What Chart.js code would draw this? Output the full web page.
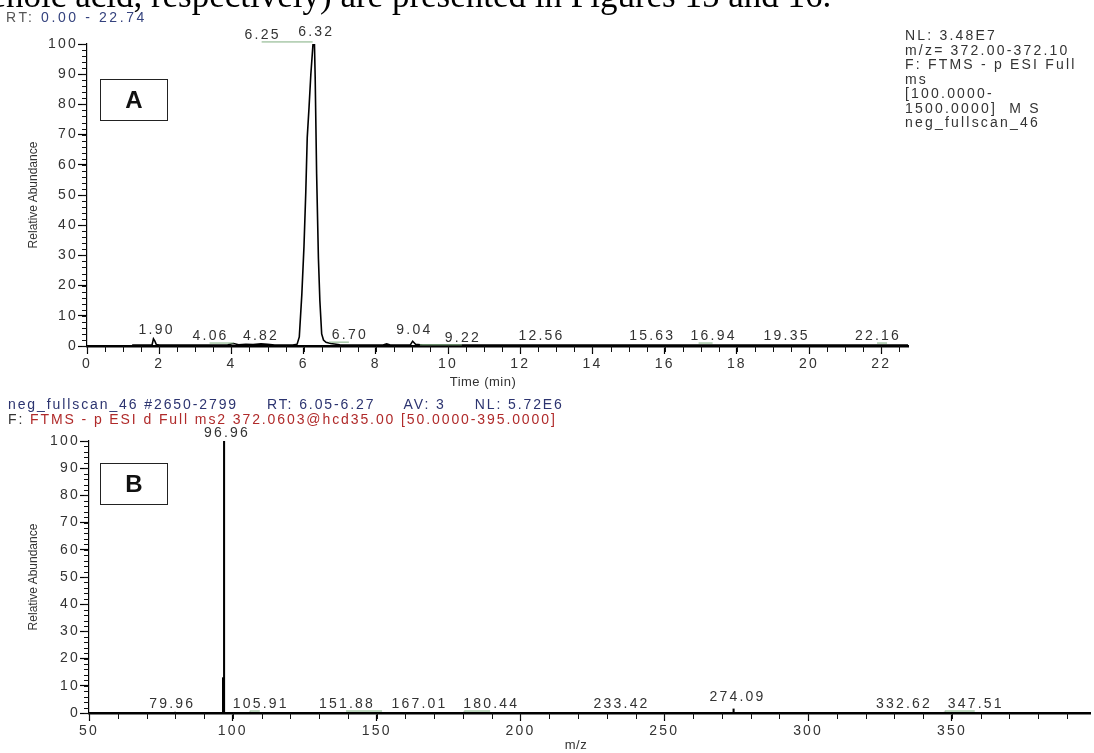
<!DOCTYPE html>
<html>
<head>
<meta charset="utf-8">
<script src="https://cdn.jsdelivr.net/npm/chart.js@4.4.0/dist/chart.umd.min.js"></script>
<style>
body{margin:0;background:#fff;}
#page{position:relative;width:1094px;height:753px;overflow:hidden;font-family:"Liberation Sans",Arial,sans-serif;color:#333;}
.abs{position:absolute;white-space:pre;z-index:2;}
.xc{font-size:14px;letter-spacing:2.2px;}
canvas{position:absolute;left:0;z-index:1;}
.box{position:absolute;z-index:2;border:1.3px solid #222;box-sizing:border-box;width:68px;height:42px;left:100px;font:bold 24px "Liberation Sans",Arial,sans-serif;color:#111;text-align:center;line-height:40px;}
.ytitle{position:absolute;z-index:2;white-space:nowrap;font-size:12px;color:#333;transform:translate(-50%,-50%) rotate(-90deg);}
.xtitle{position:absolute;z-index:2;white-space:nowrap;font-size:13px;letter-spacing:0.5px;color:#333;transform:translate(-50%,-50%);}
</style>
</head>
<body>
<div id="page">
  <div class="abs" style="left:0;top:0;width:1094px;height:18px;overflow:hidden;">
    <div id="sent" class="abs" style="top:-22px;left:0;font:35px/36px 'Liberation Serif','Times New Roman',serif;color:#000;"><span id="pre">decenoic </span>acid, respectively) are presented in Figures 15 and 16.</div>
  </div>
  <div class="abs xc" style="left:6px;top:9px;letter-spacing:2.6px;color:#555;">RT: <span style="color:#34427e">0.00 - 22.74</span></div>
  <div class="abs xc" style="left:905px;top:28px;line-height:14.5px;color:#333;">NL: 3.48E7
m/z= 372.00-372.10
F: FTMS - p ESI Full
ms
[100.0000-
1500.0000]  M S
neg_fullscan_46</div>
  <div class="abs xc" style="left:8px;top:396px;letter-spacing:1.9px;color:#2c3470;">neg_fullscan_46 #2650-2799     RT: 6.05-6.27     AV: 3     NL: 5.72E6</div>
  <div class="abs xc" style="left:8px;top:411px;letter-spacing:1.9px;color:#333;">F: <span style="color:#b02a2a">FTMS - p ESI d Full ms2 372.0603@hcd35.00 [50.0000-395.0000]</span></div>
  <div class="box" style="top:79px;">A</div>
  <div class="box" style="top:463px;">B</div>
  <div class="ytitle" style="left:33px;top:195px;">Relative Abundance</div>
  <div class="ytitle" style="left:33px;top:577px;">Relative Abundance</div>
  <div class="xtitle" style="left:483px;top:381px;">Time (min)</div>
  <div class="xtitle" style="left:576px;top:744px;">m/z</div>
  <canvas id="chartA" width="1094" height="400" style="top:0;"></canvas>
  <canvas id="chartB" width="1094" height="358" style="top:395px;"></canvas>
</div>
<script>
// panel A: chromatogram (time in min, relative abundance)
var timeA = [1.25, 1.80, 1.84, 1.88, 1.92, 2.00, 3.00, 3.90, 4.06, 4.20, 4.40, 4.60, 4.82, 5.00, 5.20, 5.70,
             5.82, 5.88, 5.95, 6.01, 6.06, 6.10, 6.15, 6.20, 6.26, 6.30, 6.32, 6.36, 6.41, 6.45, 6.50, 6.55,
             6.62, 6.75, 7.00, 8.20, 8.30, 8.40, 8.95, 9.02, 9.10, 9.30, 22.74];
var abundA = [0.3, 0.3, 2.4, 1.6, 0.5, 0.3, 0.3, 0.4, 0.8, 0.4, 0.6, 0.5, 0.7, 0.6, 0.3, 0.3,
              0.6, 3, 17, 33, 51, 69, 79, 90, 100, 100, 89, 57, 29, 15, 4, 2,
              1.2, 0.8, 0.4, 0.3, 0.7, 0.3, 0.3, 1.6, 0.6, 0.3, 0.3];
var peakTimesA = [1.90, 4.06, 4.82, 6.25, 6.32, 6.70, 9.04, 9.22, 12.56, 15.63, 16.94, 19.35, 22.16];
var peakLabelHeightA = [5.3, 3.3, 3.3, 103, 104, 3.6, 5.3, 2.7, 3.3, 3.3, 3.3, 3.3, 3.3];
var peakShiftA = [0, -24, -1, -51, 0, 20, 0, 42, 0, 0, 14, 0, -10];

// panel B: MS2 spectrum (m/z, relative abundance)
var mzB = [79.96, 96.6, 96.96, 105.91, 151.88, 167.01, 180.44, 233.42, 274.09, 332.62, 347.51];
var intB = [0.3, 13, 100, 0.3, 0.2, 0.2, 0.3, 0.2, 1.5, 0.2, 0.3];
var peakMzB = [79.96, 96.96, 105.91, 151.88, 167.01, 180.44, 233.42, 274.09, 332.62, 347.51];
var peakLabelHeightB = [3.3, 103, 3.3, 3.3, 3.3, 3.3, 3.3, 5.9, 3.3, 3.3];
var peakShiftB = [-4, 2, 10, -36, -7, 26, 4, 3, 1, 30];
var mzTicksB = [50, 100, 150, 200, 250, 300, 350];

// put the clipped sentence so that "acid," starts where it does in the page
var pre = document.getElementById('pre');
document.getElementById('sent').style.left = (75 - pre.offsetWidth) + 'px';

var tickFont = {family: '"Liberation Sans", Arial, sans-serif', size: 14};

// instrument-style wide text on the canvas
var spacing = {
  id: 'spacing',
  beforeDraw: function(chart) { chart.ctx.letterSpacing = '2.2px'; }
};

var peakLabels = {
  id: 'peakLabels',
  afterDatasetsDraw: function(chart, args, opts) {
    var ctx = chart.ctx, xs = chart.scales.x, ys = chart.scales.y;
    ctx.save();
    ctx.font = '14px "Liberation Sans", Arial, sans-serif';
    ctx.letterSpacing = '2.2px';
    ctx.fillStyle = '#333';
    ctx.textAlign = 'center';
    ctx.textBaseline = 'middle';
    for (var i = 0; i < opts.values.length; i++) {
      var px = xs.getPixelForValue(opts.values[i]);
      var tx = px + opts.shift[i];
      var ty = ys.getPixelForValue(opts.heights[i]);
      ctx.fillText(opts.values[i].toFixed(2), tx + 1, ty);
      if (Math.abs(opts.shift[i]) > 8) {
        ctx.beginPath();
        ctx.strokeStyle = '#7fae7f';
        ctx.lineWidth = 1;
        ctx.moveTo(Math.min(px, tx), ty + 7);
        ctx.lineTo(Math.max(px, tx), ty + 7);
        ctx.stroke();
      }
    }
    ctx.restore();
  }
};

var minorTicks = {
  id: 'minorTicks',
  afterDraw: function(chart, args, opts) {
    var ctx = chart.ctx, xs = chart.scales.x, ys = chart.scales.y;
    ctx.save();
    ctx.beginPath();
    ctx.strokeStyle = '#111';
    ctx.lineWidth = 1;
    var v, p;
    for (v = xs.min; v <= xs.max + 1e-9; v += opts.xStep) {
      p = Math.round(xs.getPixelForValue(v)) + 0.5;
      ctx.moveTo(p, xs.top);
      ctx.lineTo(p, xs.top + 6);
    }
    for (v = ys.min; v <= ys.max + 1e-9; v += opts.yStep) {
      p = Math.round(ys.getPixelForValue(v)) + 0.5;
      ctx.moveTo(ys.right, p);
      ctx.lineTo(ys.right - 5, p);
    }
    ctx.stroke();
    ctx.restore();
  }
};

function axes(xmin, xmax, xstep, yWidth, xHeight, xTickValues) {
  var x = {
    type: 'linear', min: xmin, max: xmax, offset: false,
    afterFit: function(s) { s.height = xHeight; },
    border: {color: '#000', width: 2.5},
    grid: {drawOnChartArea: false, drawTicks: true, tickLength: 8, color: '#000', tickWidth: 1.2, offset: false},
    ticks: {stepSize: xstep, includeBounds: false, color: '#333', font: tickFont, padding: 2, maxRotation: 0, autoSkip: false},
    title: {display: false}
  };
  if (xTickValues) {
    x.afterBuildTicks = function(s) { s.ticks = xTickValues.map(function(v) { return {value: v}; }); };
  }
  return {
    x: x,
    y: {
      min: 0, max: 100,
      afterFit: function(s) { s.width = yWidth; },
      border: {color: '#000', width: 1.2},
      grid: {drawOnChartArea: false, drawTicks: true, tickLength: 9, color: '#000', tickWidth: 1.2},
      ticks: {stepSize: 10, color: '#333', font: tickFont, padding: 0, autoSkip: false},
      title: {display: false}
    }
  };
}

var chartA = new Chart(document.getElementById('chartA').getContext('2d'), {
  type: 'line',
  data: {
    datasets: [{
      data: timeA.map(function(t, i) { return {x: t, y: abundA[i]}; }),
      borderColor: '#000',
      borderWidth: 1.6,
      pointRadius: 0,
      tension: 0,
      fill: false
    }]
  },
  options: {
    responsive: false,
    animation: false,
    devicePixelRatio: 1,
    layout: {padding: {left: 0, right: 186, top: 44, bottom: 0}},
    plugins: {
      legend: {display: false},
      tooltip: {enabled: false},
      peakLabels: {values: peakTimesA, heights: peakLabelHeightA, shift: peakShiftA},
      minorTicks: {xStep: 0.5, yStep: 2}
    },
    scales: axes(0, 22.74, 2, 87, 54)
  },
  plugins: [spacing, peakLabels, minorTicks]
});

var chartB = new Chart(document.getElementById('chartB').getContext('2d'), {
  type: 'bar',
  data: {
    datasets: [{
      data: mzB.map(function(m, i) { return {x: m, y: intB[i]}; }),
      backgroundColor: '#000',
      borderWidth: 0,
      barThickness: 1.4
    }]
  },
  options: {
    responsive: false,
    animation: false,
    devicePixelRatio: 1,
    layout: {padding: {left: 0, right: 4, top: 46, bottom: 0}},
    plugins: {
      legend: {display: false},
      tooltip: {enabled: false},
      peakLabels: {values: peakMzB, heights: peakLabelHeightB, shift: peakShiftB},
      minorTicks: {xStep: 10, yStep: 2}
    },
    scales: axes(50, 398, 50, 89, 40, mzTicksB)
  },
  plugins: [spacing, peakLabels, minorTicks]
});
</script>
</body>
</html>
